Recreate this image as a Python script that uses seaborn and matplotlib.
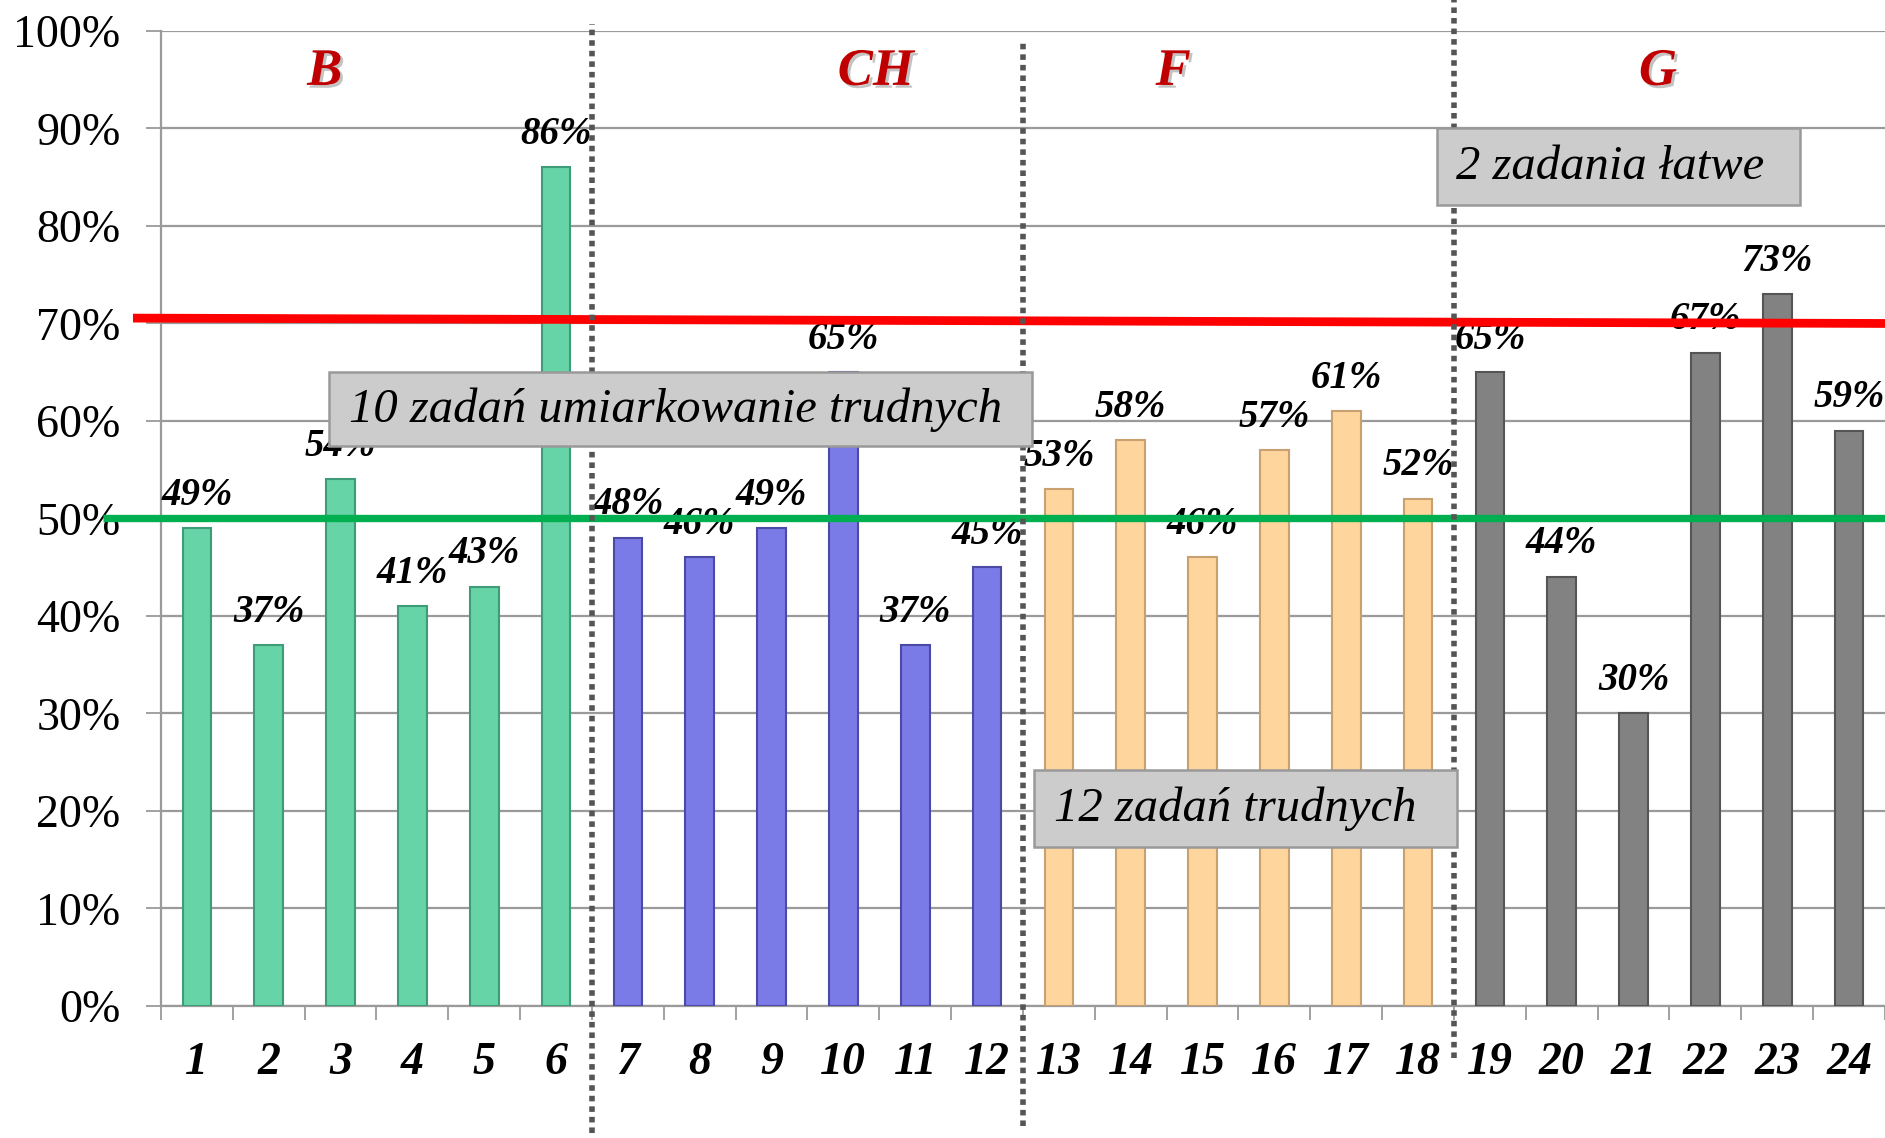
import pandas as pd
import matplotlib.pyplot as plt
import matplotlib.patheffects as pe
from matplotlib.patches import Rectangle
import seaborn as sns

# dane: numer zadania, wynik (%), dział
zadania = [str(i) for i in range(1, 25)]
wyniki = [49, 37, 54, 41, 43, 86,
          48, 46, 49, 65, 37, 45,
          53, 58, 46, 57, 61, 52,
          65, 44, 30, 67, 73, 59]
dzialy = ["B"] * 6 + ["CH"] * 6 + ["F"] * 6 + ["G"] * 6
kolory = {"B": "#66D4A6", "CH": "#7B7BE8", "F": "#FFD59E", "G": "#828282"}
krawedzie = {"B": "#3F9C78", "CH": "#4B4BA6", "F": "#C9A070", "G": "#555555"}

etykiety_y = ["0%", "10%", "20%", "30%", "40%", "50%", "60%", "70%", "80%", "90%", "100%"]
prog_latwe = 70
prog_trudne = 50

df = pd.DataFrame({"zadanie": zadania, "wynik": wyniki, "dzial": dzialy})

sns.set_style("white")
plt.rcParams['font.family'] = ['Liberation Serif', 'DejaVu Serif']

fig = plt.figure(figsize=(18.85, 11.38), dpi=100)
ax = fig.add_axes([0.0854, 0.116, 0.9146, 0.8568])

sns.barplot(data=df, x="zadanie", y="wynik", hue="dzial", palette=kolory,
            dodge=False, width=0.4, saturation=1, legend=False, ax=ax, zorder=3)
for bar, d in zip(ax.patches, dzialy):
    bar.set_edgecolor(krawedzie[d])
    bar.set_linewidth(1.5)

ax.set_xlim(-0.5, 23.5)
ax.set_ylim(0, 100)
ax.set_xlabel("")
ax.set_ylabel("")

# siatka i osie
ax.set_yticks(range(0, 101, 10))
ax.set_yticklabels(etykiety_y, fontsize=33, color="black")
ax.yaxis.grid(True, color="#9A9A9A", linewidth=1.6, zorder=0)
ax.xaxis.grid(False)
ax.set_axisbelow(True)
ax.tick_params(axis="y", length=11, width=1.3, color="#9A9A9A", pad=18, left=True)
ax.set_xticks(range(24))
ax.set_xticklabels(zadania, fontsize=33, fontweight="bold", fontstyle="italic", color="black")
ax.tick_params(axis="x", which="major", length=0, pad=26)
ax.set_xticks([i - 0.5 for i in range(25)], minor=True)
ax.tick_params(axis="x", which="minor", length=10, width=1.3, color="#9A9A9A", bottom=True)
for s in ["top", "right"]:
    ax.spines[s].set_visible(False)
for s in ["left", "bottom"]:
    ax.spines[s].set_color("#9A9A9A")
    ax.spines[s].set_linewidth(1.6)

# etykiety wartości
for i, v in enumerate(wyniki):
    ax.text(i, v + 3.4, f"{v}%", ha="center", va="center", fontsize=28,
            fontweight="bold", fontstyle="italic", color="black", zorder=4)

# linie progowe
ax.plot([-0.89, 23.5], [prog_latwe + 0.55, prog_latwe], color="#FF0000", linewidth=6.3,
        clip_on=False, zorder=5, solid_capstyle="butt")
ax.plot([-1.31, 23.5], [prog_trudne, prog_trudne], color="#00B050", linewidth=5.3,
        clip_on=False, zorder=5, solid_capstyle="butt")

# separatory działów
for x, y0, y1 in [(5.5, -13.0, 100.7), (11.5, -12.3, 99.1), (17.5, -5.3, 103.5)]:
    ax.plot([x, x], [y0, y1], color="#555555", linewidth=4.0, linestyle=(0, (1.0, 0.9)),
            clip_on=False, zorder=6)

# nazwy działów
cien = [pe.withSimplePatchShadow(offset=(2, -2), shadow_rgbFace="#888888", alpha=0.5)]
for nazwa, x in [("B", 1.78), ("CH", 9.45), ("F", 13.59), ("G", 20.34)]:
    ax.text(x, 95.8, nazwa, ha="center", va="center", fontsize=38, fontweight="bold",
            fontstyle="italic", color="#C00000", path_effects=cien, zorder=7)

# ramki z opisami
ramki = [("10 zadań umiarkowanie trudnych", 1.845, 11.627, 57.4, 65.0),
         ("2 zadania łatwe", 17.26, 22.31, 82.1, 90.0),
         ("12 zadań trudnych", 11.66, 17.54, 16.3, 24.2)]
for tekst, x0, x1, y0, y1 in ramki:
    ax.add_patch(Rectangle((x0, y0), x1 - x0, y1 - y0, facecolor="#CCCCCC",
                           edgecolor="#999999", linewidth=1.8, zorder=8))
    ax.text(x0 + 0.27, (y0 + y1) / 2, tekst, ha="left", va="center", fontsize=35,
            fontstyle="italic", color="black", zorder=9)

plt.savefig("out.png", dpi=100)
